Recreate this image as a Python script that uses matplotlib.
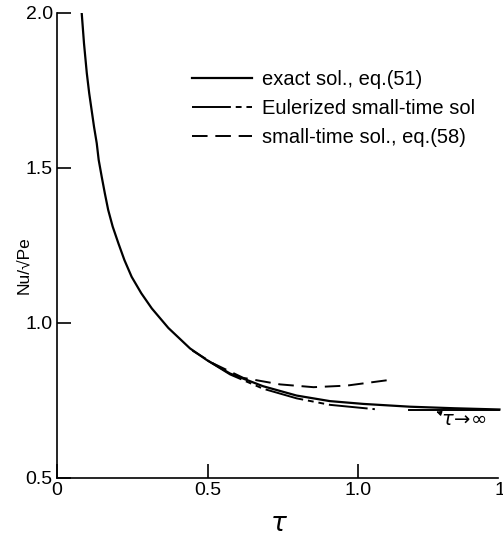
import matplotlib
matplotlib.use('Agg')
import matplotlib.pyplot as plt
from matplotlib import font_manager

# pick a narrow sans if we have one
names = {f.name for f in font_manager.fontManager.ttflist}
fam = [n for n in ['Liberation Sans Narrow', 'Liberation Sans', 'DejaVu Sans'] if n in names]
plt.rcParams['font.family'] = fam + ['DejaVu Sans']
plt.rcParams['mathtext.fontset'] = 'dejavusans'

# exact sol., eq.(51)
tau_exact = [0.082, 0.0897, 0.099, 0.107, 0.115, 0.123, 0.132, 0.1385, 0.1485, 0.159,
             0.170, 0.185, 0.204, 0.224, 0.248, 0.28, 0.315, 0.37, 0.442, 0.497,
             0.575, 0.685, 0.796, 0.907, 1.018, 1.173, 1.32, 1.47]
nu_exact = [2.0, 1.901, 1.805, 1.740, 1.686, 1.632, 1.579, 1.525, 1.471, 1.417,
            1.364, 1.310, 1.256, 1.202, 1.148, 1.095, 1.046, 0.983, 0.917, 0.880,
            0.836, 0.795, 0.765, 0.747, 0.738, 0.729, 0.724, 0.72]

# Eulerized small-time sol
tau_euler = [0.50, 0.575, 0.685, 0.796, 0.907, 1.056]
nu_euler = [0.878, 0.833, 0.787, 0.756, 0.735, 0.721]

# small-time sol., eq.(58)
tau_small = [0.45, 0.52, 0.619, 0.741, 0.852, 0.962, 1.117]
nu_small = [0.910, 0.868, 0.822, 0.801, 0.792, 0.797, 0.817]

# tau -> infinity limit
tau_inf = [1.17, 1.47]
nu_inf = [0.717, 0.717]

xticks = [0, 0.5, 1.0, 1.5]
xticklabels = ['0', '0.5', '1.0', '1.5']
yticks = [0.5, 1.0, 1.5, 2.0]
yticklabels = ['0.5', '1.0', '1.5', '2.0']

fig = plt.figure(figsize=(5.03, 5.37), dpi=100)
ax = fig.add_axes([57 / 503, 1 - 477.7 / 537, 451.5 / 503, 465 / 537])

ax.plot(tau_exact, nu_exact, color='black', lw=1.6, solid_joinstyle='round',
        label='exact sol., eq.(51)')
ax.plot(tau_euler, nu_euler, color='black', lw=1.4,
        linestyle=(0, (20, 2.5, 3, 2.5, 3, 2.5)), label='Eulerized small-time sol')
ax.plot(tau_small, nu_small, color='black', lw=1.4,
        linestyle=(0, (8, 4)), label='small-time sol., eq.(58)')
ax.plot(tau_inf, nu_inf, color='black', lw=1.4)

ax.annotate(r'$\tau\!\rightarrow\!\infty$', xy=(1.26, 0.713), xytext=(1.275, 0.683),
            fontsize=14, va='center', ha='left',
            arrowprops=dict(arrowstyle='-|>', color='black', lw=0.9,
                            mutation_scale=7, shrinkA=0, shrinkB=0))

ax.set_xlim(0, 1.5)
ax.set_ylim(0.5, 2.0)
ax.set_xticks(xticks)
ax.set_xticklabels(xticklabels)
ax.set_yticks(yticks)
ax.set_yticklabels(yticklabels)
ax.tick_params(direction='in', length=10, width=1.2, labelsize=14, pad=3)

for s in ['top', 'right']:
    ax.spines[s].set_visible(False)
for s in ['left', 'bottom']:
    ax.spines[s].set_linewidth(1.2)
ax.spines['bottom'].set_bounds(0, 1.465)

leg = ax.legend(loc='upper left', bbox_to_anchor=(0.298, 0.877), frameon=False,
                fontsize=14.5, handlelength=3.0, handletextpad=0.5,
                labelspacing=0.5, borderpad=0, borderaxespad=0)

fig.text(279 / 503, 1 - 524 / 537, r'$\tau$', fontsize=19, ha='center', va='center')
fig.text(24 / 503, 1 - 265 / 537, 'Nu/√Pe', fontsize=12.5, rotation=90,
         ha='center', va='center')

fig.savefig('out.png', dpi=100)
